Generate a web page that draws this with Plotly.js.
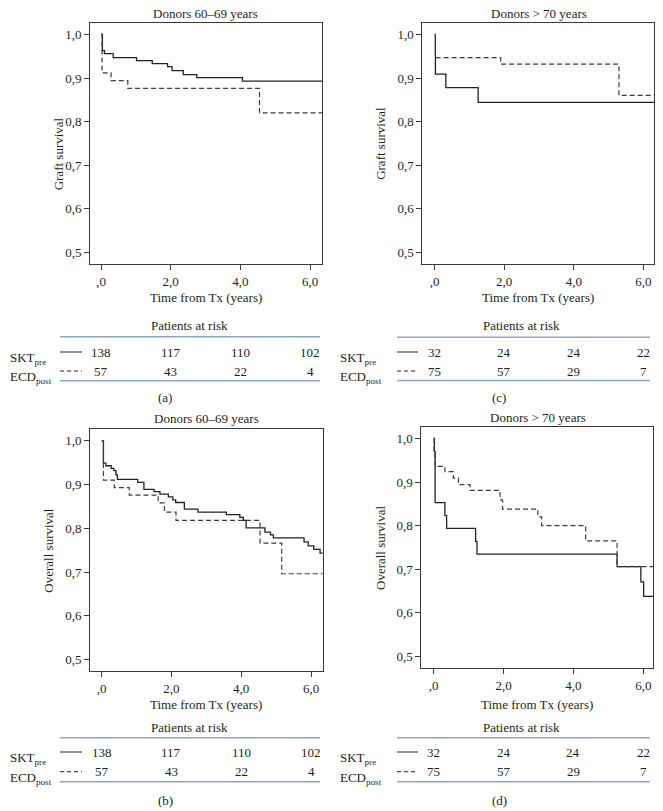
<!DOCTYPE html>
<html>
<head>
<meta charset="utf-8">
<script src="https://cdn.plot.ly/plotly-3.0.1.min.js"></script>
<style>
  html, body { margin: 0; padding: 0; background: #fff; }
  #chart { width: 663px; height: 811px; }
</style>
</head>
<body>
<div id="chart"></div>
<script>
// ---------------- DATA ----------------
// (a) Graft survival, donors 60-69 years
const graft60_skt_t = [0, 0.04, 0.10, 0.35, 1.02, 1.47, 1.91, 2.04, 2.36, 2.75, 4.06, 6.4];
const graft60_skt_s = [1.0, 0.963, 0.956, 0.947, 0.940, 0.933, 0.926, 0.917, 0.908, 0.901, 0.893, 0.893];
const graft60_ecd_t = [0, 0.03, 0.29, 0.77, 4.55, 6.4];
const graft60_ecd_s = [1.0, 0.912, 0.894, 0.876, 0.820, 0.820];

// (c) Graft survival, donors > 70 years
const graft70_skt_t = [0, 0.02, 0.32, 1.25, 6.4];
const graft70_skt_s = [1.0, 0.909, 0.878, 0.844, 0.844];
const graft70_ecd_t = [0, 0.02, 1.90, 5.30, 6.4];
const graft70_ecd_s = [1.0, 0.947, 0.932, 0.860, 0.860];

// (b) Overall survival, donors 60-69 years
const os60_skt_t = [0, 0.05, 0.12, 0.27, 0.35, 0.41, 0.45, 1.03, 1.21, 1.50, 1.67, 1.91, 2.04, 2.12, 2.37, 2.76, 3.57, 3.96, 4.06, 4.14, 4.68, 4.84, 4.92, 5.80, 5.92, 6.08, 6.26, 6.4];
const os60_skt_s = [1.0, 0.949, 0.943, 0.937, 0.932, 0.922, 0.912, 0.905, 0.889, 0.884, 0.878, 0.872, 0.865, 0.859, 0.844, 0.837, 0.831, 0.825, 0.818, 0.801, 0.791, 0.785, 0.778, 0.769, 0.760, 0.752, 0.743, 0.743];
const os60_ecd_t = [0, 0.05, 0.36, 0.79, 1.62, 1.80, 2.13, 4.54, 5.16, 6.4];
const os60_ecd_s = [1.0, 0.910, 0.893, 0.876, 0.858, 0.837, 0.818, 0.766, 0.696, 0.696];

// (d) Overall survival, donors > 70 years
const os70_skt_t = [0, 0.02, 0.04, 0.32, 0.37, 1.20, 1.24, 5.25, 5.93, 6.01, 6.4];
const os70_skt_s = [1.0, 0.97, 0.853, 0.823, 0.794, 0.764, 0.735, 0.706, 0.671, 0.638, 0.638];
const os70_ecd_t = [0, 0.01, 0.04, 0.32, 0.56, 0.71, 1.04, 1.90, 1.97, 2.98, 3.09, 4.35, 5.25, 6.4];
const os70_ecd_s = [1.0, 0.97, 0.936, 0.924, 0.909, 0.894, 0.881, 0.859, 0.838, 0.820, 0.800, 0.765, 0.706, 0.706];

// Patients at risk
const riskTimes = [0, 2, 4, 6];
const risk60_skt = [138, 117, 110, 102];
const risk60_ecd = [57, 43, 22, 4];
const risk70_skt = [32, 24, 24, 22];
const risk70_ecd = [75, 57, 29, 7];

// Tick labels
const xTickVals = [0, 2, 4, 6];
const xTickText = [',0', '2,0', '4,0', '6,0'];
const yTickVals = [0.5, 0.6, 0.7, 0.8, 0.9, 1.0];
const yTickText = ['0,5', '0,6', '0,7', '0,8', '0,9', '1,0'];

const panelTitles = ['Donors 60–69 years', 'Donors > 70 years', 'Donors 60–69 years', 'Donors > 70 years'];
const yTitles = ['Graft survival', 'Graft survival', 'Overall survival', 'Overall survival'];
const xTitle = 'Time from Tx (years)';
const panelLabels = ['(a)', '(c)', '(b)', '(d)'];
const riskHeader = 'Patients at risk';
const groupLabels = ['SKT<sub>pre</sub>', 'ECD<sub>post</sub>'];

// ---------------- LAYOUT HELPERS ----------------
const W = 663, H = 811;
const px = x => x / W;
const py = y => 1 - y / H;

const FONT = 'Liberation Serif, Times New Roman, serif';
const TXT = '#231f20';
const AX = '#3a3a3a';

// panel geometry (pixels): left, right, top, bottom, x-axis pixel of 0 and of 6
const panels = [
  {L: 90,    R: 322,   T: 22.7,  B: 264,   x0: 101,   x6: 310,   tx: 205.5, ty: 13,   ytx: 58,    xty: 297},
  {L: 422.3, R: 654,   T: 22.7,  B: 264,   x0: 434.7, x6: 643.3, tx: 538.8, ty: 13,   ytx: 380.5, xty: 297},
  {L: 90,    R: 322.7, T: 429,   B: 671.3, x0: 101.7, x6: 311,   tx: 206,   ty: 418,  ytx: 48.5,  xty: 704},
  {L: 421.3, R: 653.3, T: 426.7, B: 668.3, x0: 433.7, x6: 643.3, tx: 538,   ty: 417.7,ytx: 380.5, xty: 704}
];
const yRange = [0.473, 1.027];

// tables (pixels)
const tables = [
  {panel: 0, head: 326,   top: 336.7, r1: 352,   r2: 371,   bot: 380.7, lab: 397.7, labx: 165, lineL: 60,  lineR: 320, nameX: 8,   symL: 60,  symR: 82,  headX: 189.5, skt: risk60_skt, ecd: risk60_ecd},
  {panel: 1, head: 326,   top: 337.2, r1: 352,   r2: 371,   bot: 380.5, lab: 397.7, labx: 499, lineL: 397, lineR: 650, nameX: 338, symL: 397, symR: 418, headX: 521.7, skt: risk70_skt, ecd: risk70_ecd},
  {panel: 2, head: 727,   top: 737.7, r1: 752,   r2: 771.7, bot: 781.7, lab: 800,   labx: 165, lineL: 60,  lineR: 320, nameX: 8,   symL: 60,  symR: 82,  headX: 189.5, skt: risk60_skt, ecd: risk60_ecd},
  {panel: 3, head: 727,   top: 737.7, r1: 752,   r2: 771.7, bot: 781.7, lab: 800,   labx: 499, lineL: 397, lineR: 650, nameX: 338, symL: 397, symR: 418, headX: 521.7, skt: risk70_skt, ecd: risk70_ecd}
];

const curves = [
  [graft60_skt_t, graft60_skt_s, graft60_ecd_t, graft60_ecd_s],
  [graft70_skt_t, graft70_skt_s, graft70_ecd_t, graft70_ecd_s],
  [os60_skt_t, os60_skt_s, os60_ecd_t, os60_ecd_s],
  [os70_skt_t, os70_skt_s, os70_ecd_t, os70_ecd_s]
];

const data = [];
const layout = {
  width: W, height: H,
  margin: {l: 0, r: 0, t: 0, b: 0},
  paper_bgcolor: '#fff', plot_bgcolor: '#fff',
  showlegend: false,
  font: {family: FONT, size: 13, color: TXT},
  annotations: [], shapes: []
};

panels.forEach((p, i) => {
  const n = i + 1;
  const xs = n === 1 ? '' : String(n);
  const scale = (p.x6 - p.x0) / 6;
  const xr = [(p.L - p.x0) / scale, (p.R - p.x0) / scale];
  layout['xaxis' + xs] = {
    domain: [px(p.L), px(p.R)], anchor: 'y' + xs, range: xr,
    tickvals: xTickVals, ticktext: xTickText,
    showline: true, mirror: true, linecolor: AX, linewidth: 1,
    ticks: 'outside', ticklen: 5, tickcolor: AX, tickwidth: 1,
    showgrid: false, zeroline: false, fixedrange: true,
    tickfont: {family: FONT, size: 13, color: TXT}
  };
  layout['yaxis' + xs] = {
    domain: [py(p.B), py(p.T)], anchor: 'x' + xs, range: yRange,
    tickvals: yTickVals, ticktext: yTickText,
    showline: true, mirror: true, linecolor: AX, linewidth: 1,
    ticks: 'outside', ticklen: 5, tickcolor: AX, tickwidth: 1,
    showgrid: false, zeroline: false, fixedrange: true,
    tickfont: {family: FONT, size: 13, color: TXT}
  };
  const c = curves[i];
  data.push({x: c[0], y: c[1], xaxis: 'x' + xs, yaxis: 'y' + xs, mode: 'lines',
             line: {shape: 'hv', color: '#222222', width: 1.3}, hoverinfo: 'skip', cliponaxis: true});
  data.push({x: c[2], y: c[3], xaxis: 'x' + xs, yaxis: 'y' + xs, mode: 'lines',
             line: {shape: 'hv', color: '#3c3c3c', width: 1.2, dash: '5px,3px'}, hoverinfo: 'skip', cliponaxis: true});

  layout.annotations.push({text: panelTitles[i], xref: 'paper', yref: 'paper', x: px(p.tx), y: py(p.ty),
    xanchor: 'center', yanchor: 'middle', showarrow: false, font: {family: FONT, size: 13, color: TXT}});
  layout.annotations.push({text: yTitles[i], xref: 'paper', yref: 'paper', x: px(p.ytx), y: py((p.T + p.B) / 2 + (i === 0 ? 10 : 0)),
    xanchor: 'center', yanchor: 'middle', textangle: -90, showarrow: false, font: {family: FONT, size: 13, color: TXT}});
  layout.annotations.push({text: xTitle, xref: 'paper', yref: 'paper', x: px((p.L + p.R) / 2 - 0), y: py(p.xty),
    xanchor: 'center', yanchor: 'middle', showarrow: false, font: {family: FONT, size: 13, color: TXT}});
});

tables.forEach(tb => {
  const n = tb.panel + 1;
  const xs = n === 1 ? '' : String(n);
  const lineStyle = {color: '#8ea7c7', width: 1.6};
  layout.shapes.push({type: 'line', xref: 'paper', yref: 'paper', x0: px(tb.lineL), x1: px(tb.lineR), y0: py(tb.top), y1: py(tb.top), line: lineStyle});
  layout.shapes.push({type: 'line', xref: 'paper', yref: 'paper', x0: px(tb.lineL), x1: px(tb.lineR), y0: py(tb.bot), y1: py(tb.bot), line: lineStyle});
  layout.shapes.push({type: 'line', xref: 'paper', yref: 'paper', x0: px(tb.symL), x1: px(tb.symR), y0: py(tb.r1), y1: py(tb.r1), line: {color: TXT, width: 1}});
  layout.shapes.push({type: 'line', xref: 'paper', yref: 'paper', x0: px(tb.symL), x1: px(tb.symR), y0: py(tb.r2), y1: py(tb.r2), line: {color: TXT, width: 1, dash: '4px,3px'}});
  layout.annotations.push({text: riskHeader, xref: 'paper', yref: 'paper', x: px(tb.headX), y: py(tb.head),
    xanchor: 'center', yanchor: 'middle', showarrow: false, font: {family: FONT, size: 13, color: TXT}});
  layout.annotations.push({text: panelLabels[tb.panel], xref: 'paper', yref: 'paper', x: px(tb.labx), y: py(tb.lab),
    xanchor: 'center', yanchor: 'middle', showarrow: false, font: {family: FONT, size: 13, color: TXT}});
  layout.annotations.push({text: groupLabels[0], xref: 'paper', yref: 'paper', x: px(tb.nameX), y: py(tb.r1 - 4),
    xanchor: 'left', yanchor: 'top', yshift: 0, showarrow: false, font: {family: FONT, size: 13, color: TXT}});
  layout.annotations.push({text: groupLabels[1], xref: 'paper', yref: 'paper', x: px(tb.nameX), y: py(tb.r2 - 4),
    xanchor: 'left', yanchor: 'top', showarrow: false, font: {family: FONT, size: 13, color: TXT}});
  riskTimes.forEach((t, k) => {
    layout.annotations.push({text: String(tb.skt[k]), xref: 'x' + xs, yref: 'paper', x: t, y: py(tb.r1),
      xanchor: 'center', yanchor: 'middle', showarrow: false, font: {family: FONT, size: 13, color: TXT}});
    layout.annotations.push({text: String(tb.ecd[k]), xref: 'x' + xs, yref: 'paper', x: t, y: py(tb.r2),
      xanchor: 'center', yanchor: 'middle', showarrow: false, font: {family: FONT, size: 13, color: TXT}});
  });
});

Plotly.newPlot('chart', data, layout, {staticPlot: true, displayModeBar: false});
</script>
</body>
</html>
